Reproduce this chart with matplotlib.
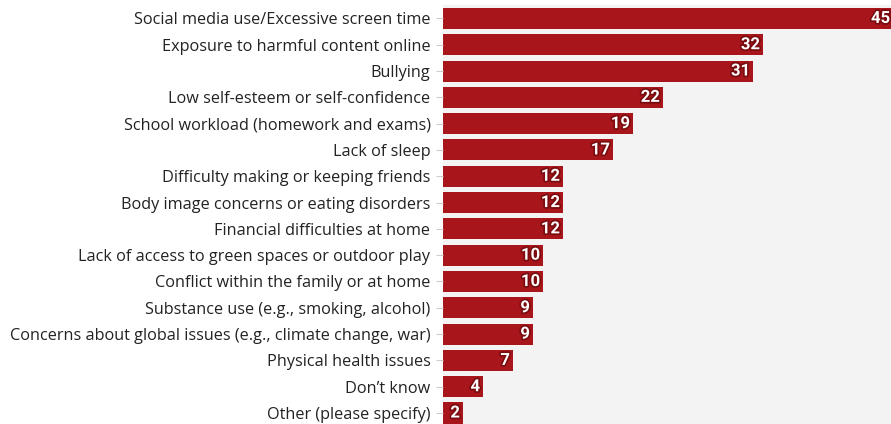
import matplotlib
matplotlib.use("Agg")
import matplotlib.pyplot as plt
import matplotlib.patheffects as pe

labels = [
    "Social media use/Excessive screen time",
    "Exposure to harmful content online",
    "Bullying",
    "Low self-esteem or self-confidence",
    "School workload (homework and exams)",
    "Lack of sleep",
    "Difficulty making or keeping friends",
    "Body image concerns or eating disorders",
    "Financial difficulties at home",
    "Lack of access to green spaces or outdoor play",
    "Conflict within the family or at home",
    "Substance use (e.g., smoking, alcohol)",
    "Concerns about global issues (e.g., climate change, war)",
    "Physical health issues",
    "Don\u2019t know",
    "Other (please specify)",
]
values = [45, 32, 31, 22, 19, 17, 12, 12, 12, 10, 10, 9, 9, 7, 4, 2]

bar_color = "#a8151b"

fig = plt.figure(figsize=(8.91, 4.24), dpi=100)
ax = fig.add_axes([443 / 891, 1 - 428.8 / 424, 1 - 443 / 891, 423.8 / 424])
ax.set_facecolor("#f3f3f3")

y = list(range(len(values)))
ax.barh(y, values, height=0.8, color=bar_color)
ax.set_ylim(15.6, -0.51)
ax.set_xlim(0, 44.8)

# value labels inside the bar ends
for yi, v in zip(y, values):
    ax.text(v - 0.3, yi, str(v), ha="right", va="center", color="white",
            fontsize=12, fontweight="bold", family="Roboto",
            path_effects=[pe.withStroke(linewidth=2.5, foreground="#7a0c10")])

ax.set_yticks(y)
ax.set_yticklabels(labels, fontsize=11.7, family="Open Sans", color="#222222")
ax.tick_params(axis="y", length=5, color="#cccccc", pad=4)
ax.set_xticks([])
for s in ax.spines.values():
    s.set_visible(False)

fig.savefig("out.png", dpi=100)
